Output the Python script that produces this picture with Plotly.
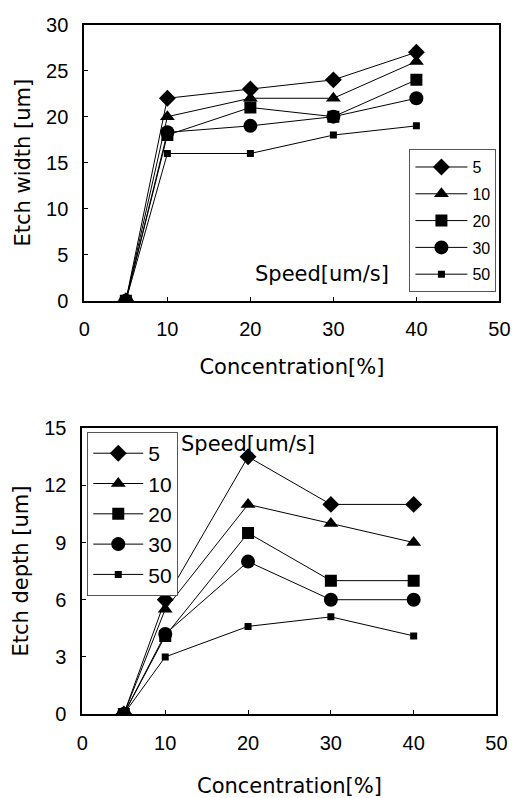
import plotly.graph_objects as go

conc = [5, 10, 20, 30, 40]
speeds = ["5", "10", "20", "30", "50"]

width_5 = [0, 22, 23, 24, 27]
width_10 = [0, 20, 22, 22, 26]
width_20 = [0, 18, 21, 20, 24]
width_30 = [0, 18.3, 19, 20, 22]
width_50 = [0, 16, 16, 18, 19]

depth_5 = [0, 6, 13.5, 11, 11]
depth_10 = [0, 5.5, 11, 10, 9]
depth_20 = [0, 4.1, 9.5, 7, 7]
depth_30 = [0, 4.2, 8, 6, 6]
depth_50 = [0, 3, 4.6, 5.1, 4.1]

widths = [width_5, width_10, width_20, width_30, width_50]
depths = [depth_5, depth_10, depth_20, depth_30, depth_50]

symbols = ["diamond", "triangle-up", "square", "circle", "square"]
sizes = [13, 13, 12, 14, 7]

FONT = "DejaVu Sans, sans-serif"
TICKFONT = "Liberation Sans, Arial, sans-serif"

fig = go.Figure()
for i, s in enumerate(speeds):
    fig.add_trace(go.Scatter(
        x=conc, y=widths[i], name=s, mode="lines+markers",
        line=dict(color="black", width=1),
        marker=dict(symbol=symbols[i], size=sizes[i], color="black"),
        xaxis="x", yaxis="y", legend="legend", legendgroup="a" + s))
for i, s in enumerate(speeds):
    fig.add_trace(go.Scatter(
        x=conc, y=depths[i], name=s, mode="lines+markers",
        line=dict(color="black", width=1),
        marker=dict(symbol=symbols[i], size=sizes[i], color="black"),
        xaxis="x2", yaxis="y2", legend="legend2", legendgroup="b" + s))

axis_common = dict(showline=True, linecolor="black", linewidth=2, mirror=True,
                   showgrid=False, zeroline=False, ticks="inside", ticklen=4,
                   tickcolor="black", tickfont=dict(family=TICKFONT, size=20, color="black"))

fig.update_layout(
    width=522, height=798,
    margin=dict(l=0, r=0, t=0, b=0),
    paper_bgcolor="white", plot_bgcolor="white",
    font=dict(family=FONT, color="black"),
    xaxis=dict(domain=[81/522, 510/522], range=[0, 50], dtick=10, anchor="y",
               ticklabelstandoff=9,
               title=dict(text="Concentration[%]", font=dict(size=21), standoff=21),
               **axis_common),
    yaxis=dict(domain=[1-298/798, 1-14/798], range=[0, 30], dtick=5, anchor="x",
               ticklabelstandoff=10,
               title=dict(text="Etch width [um]", font=dict(size=21), standoff=10),
               **axis_common),
    xaxis2=dict(domain=[79/522, 507/522], range=[0, 50], dtick=10, anchor="y2",
                ticklabelstandoff=10,
                title=dict(text="Concentration[%]", font=dict(size=21), standoff=26),
                **axis_common),
    yaxis2=dict(domain=[1-723/798, 1-429/798], range=[0, 15], dtick=3, anchor="x2",
                ticklabelstandoff=10,
                title=dict(text="Etch depth [um]", font=dict(size=21), standoff=10),
                **axis_common),
    legend=dict(x=417/522, y=1-142/798, xanchor="left", yanchor="top",
                bordercolor="#555555", borderwidth=1, bgcolor="white",
                font=dict(family=TICKFONT, size=16), itemwidth=52, tracegroupgap=3),
    legend2=dict(x=84/522, y=1-433/798, xanchor="left", yanchor="top",
                 bordercolor="#555555", borderwidth=1, bgcolor="white",
                 font=dict(family=TICKFONT, size=21), itemwidth=50, tracegroupgap=0),
    annotations=[
        dict(text="Speed[um/s]", x=327/522, y=1-256/798, xref="paper", yref="paper",
             showarrow=False, font=dict(family=FONT, size=21)),
        dict(text="Speed[um/s]", x=250/522, y=1-445/798, xref="paper", yref="paper",
             showarrow=False, font=dict(family=FONT, size=21)),
    ],
)

fig.write_html("out.html")
